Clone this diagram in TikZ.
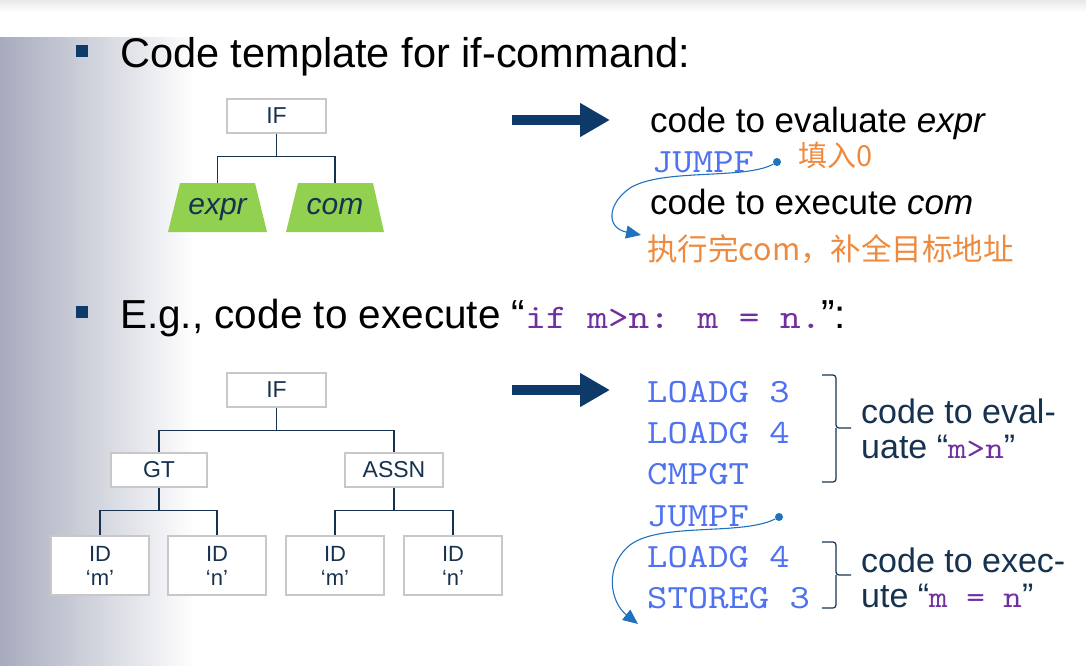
\documentclass[tikz,border=0pt]{standalone}
\usepackage{fontspec}
\setmainfont{Liberation Sans}
\newfontfamily\codefont{lmmono10-regular.otf}[FakeStretch=1.14]
\newfontfamily\cjk{Noto Sans CJK SC}
\usetikzlibrary{arrows.meta}
\definecolor{navy}{HTML}{0D3A68}
\definecolor{treeink}{HTML}{17324F}
\definecolor{boxline}{HTML}{C8C8C8}
\definecolor{leafgreen}{HTML}{92D050}
\definecolor{codeblue}{HTML}{4F72F0}
\definecolor{codepurple}{HTML}{7030A0}
\definecolor{note}{HTML}{EE8A3E}
\definecolor{jumpline}{HTML}{1F73BE}
\definecolor{sidebar}{HTML}{A7ABBD}

\begin{document}
\begin{tikzpicture}[x=1pt,y=-1pt,
    astbox/.style={draw=boxline,line width=1.2pt,fill=white,text=treeink,font=\fontsize{23}{24}\selectfont,minimum height=34,inner sep=0},
    leafbox/.style={astbox,minimum width=98,minimum height=59,align=center,font=\fontsize{22}{24}\selectfont},
    subtree/.style={minimum width=99,minimum height=49,text height=21,text depth=7,inner sep=0,text=treeink,font=\fontsize{30}{30}\selectfont\itshape},
    edge/.style={treeink,line width=1.3pt},
    bigarrow/.style={navy,line width=10pt,-{Triangle[length=30pt,width=32pt]}},
    jump/.style={jumpline,line width=1.1pt,-{Triangle[length=15pt,width=13pt]}},
    dot/.style={circle,fill=jumpline,inner sep=0,minimum size=8},
    code/.style={anchor=base west,inner sep=0,text=codeblue,font=\fontsize{34}{34}\codefont},
    txt/.style={anchor=base west,inner sep=0,font=\fontsize{34}{35}\selectfont},
    bullet/.style={fill=navy,minimum size=11.5,inner sep=0}]
\useasboundingbox (0,0) rectangle (1086,665);
\shade[top color=black!9,bottom color=white] (0,0) rectangle (1086,12);
\shade[left color=sidebar,right color=white] (0,37) rectangle (195,665);

\node[bullet] (b1) at (82,51) {};
\node[txt,font=\fontsize{41.5}{42}\selectfont] (title1) at (120,67) {Code template for if-command:};
\node[bullet] (b2) at (82,312) {};
\node[txt,font=\fontsize{40.5}{41}\selectfont] (title2) at (120,328) {E.g., code to execute “{\fontsize{34.5}{35}\codefont\color{codepurple}if m>n: m = n.}”:};

\fill[leafgreen] (168,232) -- (267,232) -- (255,183) -- (180,183) -- cycle;
\fill[leafgreen] (286,232) -- (384,232) -- (373,183) -- (298,183) -- cycle;
\node[astbox,minimum width=99] (tif) at (276.5,116) {IF};
\node[subtree] (expr) at (217.5,207.5) {expr};
\node[subtree] (com) at (335,207.5) {com};
\draw[edge] (tif.south) -- ++(0,23) -| (expr.north);
\draw[edge] (tif.south) -- ++(0,23) -| (com.north);

\draw[bigarrow] (512,120) -- (610,120);
\node[txt,font=\fontsize{35}{35}\selectfont] (evalexpr) at (650,132) {code to evaluate \textit{expr}};
\node[code] (jf1) at (652,172) {JUMPF};
\node[dot] (d1) at (777,162) {};
\node[anchor=base west,inner sep=0,text=note,font=\fontsize{29}{30}\cjk] (fill0) at (798,166) {填入0};
\node[txt,font=\fontsize{35}{35}\selectfont] (execcom) at (650,214) {code to execute \textit{com}};
\node[anchor=base west,inner sep=0,text=note,font=\fontsize{30.5}{31}\cjk] (patch) at (647,260) {执行完com，补全目标地址};
\coordinate (t1) at (641,235);
\draw[jump] (d1) .. controls (745,180) and (662,168) .. (630,188) .. controls (607,204) and (606,228) .. (t1);

\node[astbox,minimum width=99] (bif) at (276.5,390) {IF};
\node[astbox,minimum width=96] (gt) at (159,470) {GT};
\node[astbox,minimum width=98] (assn) at (394,470) {ASSN};
\node[leafbox] (id1) at (100,565.5) {ID\\‘m’};
\node[leafbox] (id2) at (217,565.5) {ID\\‘n’};
\node[leafbox] (id3) at (335,565.5) {ID\\‘m’};
\node[leafbox] (id4) at (453,565.5) {ID\\‘n’};
\draw[edge] (bif.south) -- ++(0,23) -| (gt.north);
\draw[edge] (bif.south) -- ++(0,23) -| (assn.north);
\draw[edge] (gt.south) -- ++(0,23) -| (id1.north);
\draw[edge] (gt.south) -- ++(0,23) -| (id2.north);
\draw[edge] (assn.south) -- ++(0,23) -| (id3.north);
\draw[edge] (assn.south) -- ++(0,23) -| (id4.north);

\draw[bigarrow] (512,390) -- (610,390);
\node[code] (c1) at (647,402) {LOADG 3};
\node[code] (c2) at (647,443) {LOADG 4};
\node[code] (c3) at (647,484) {CMPGT};
\node[code] (c4) at (647,526) {JUMPF};
\node[code] (c5) at (647,567) {LOADG 4};
\node[code] (c6) at (647,608) {STOREG 3};
\node[dot] (d2) at (779,517) {};
\coordinate (t2) at (638,624);
\draw[jump] (d2) .. controls (742,536) and (660,522) .. (630,545) .. controls (604,566) and (610,602) .. (t2);

\draw[treeink,line width=1.2pt,rounded corners=3pt] (822,375) -- (836,375) -- (836,428) -- (851,428);
\draw[treeink,line width=1.2pt,rounded corners=3pt] (822,482) -- (836,482) -- (836,428);
\draw[treeink,line width=1.2pt,rounded corners=3pt] (822,542) -- (836,542) -- (836,575) -- (851,575);
\draw[treeink,line width=1.2pt,rounded corners=3pt] (822,608) -- (836,608) -- (836,575);
\node[txt,align=left,anchor=north west,text=treeink] (evalmn) at (861,399) {code to eval-\\uate “{\fontsize{31}{35}\codefont\color{codepurple}m>n}”};
\node[txt,align=left,anchor=north west,text=treeink] (execmn) at (861,548) {code to exec-\\ute “{\fontsize{31}{35}\codefont\color{codepurple}m = n}”};
\end{tikzpicture}
\end{document}
